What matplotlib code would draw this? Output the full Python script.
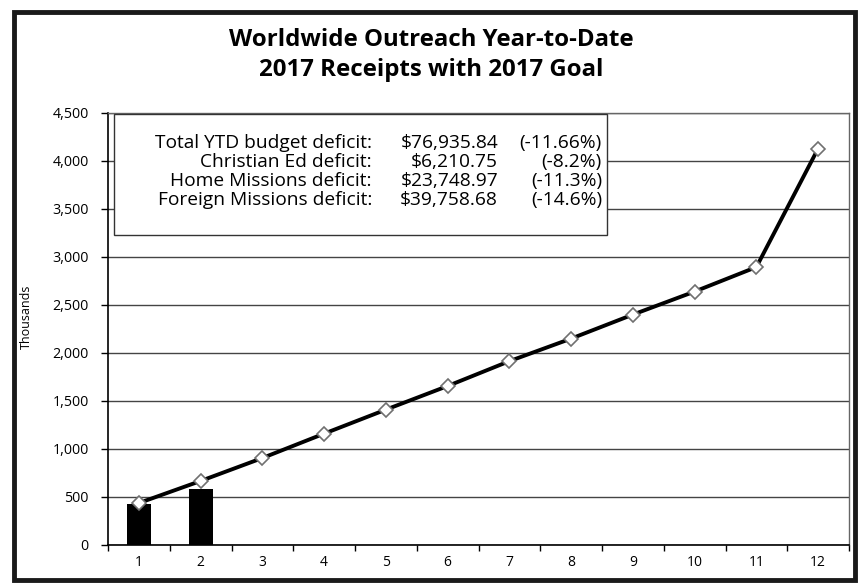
import matplotlib
matplotlib.use("Agg")
import matplotlib.pyplot as plt
from matplotlib.patches import Rectangle

months = [1, 2, 3, 4, 5, 6, 7, 8, 9, 10, 11, 12]
goal = [437, 667, 906, 1160, 1410, 1656, 1915, 2150, 2400, 2640, 2895, 4130]
receipt_months = [1, 2]
receipts = [427, 583]
yticks = [0, 500, 1000, 1500, 2000, 2500, 3000, 3500, 4000, 4500]
labels = ["Total YTD budget deficit:", "Christian Ed deficit:",
          "Home Missions deficit:", "Foreign Missions deficit:"]
amounts = ["$76,935.84", "$6,210.75", "$23,748.97", "$39,758.68"]
pcts = ["(-11.66%)", "(-8.2%)", "(-11.3%)", "(-14.6%)"]
title = "Worldwide Outreach Year-to-Date\n2017 Receipts with 2017 Goal"

plt.rcParams['font.family'] = ['Open Sans', 'DejaVu Sans']
W, H = 859, 583
fig = plt.figure(figsize=(W/100, H/100), dpi=100)
fig.patch.set_facecolor('white')

# outer frame
fig.add_artist(Rectangle((13.5/W, 3.5/H), (855-13.5)/W, (571-3.5)/H,
                         transform=fig.transFigure, fill=False,
                         edgecolor='#1a1a1a', linewidth=3.5))

ax = fig.add_axes([108/W, 1-545/H, (849-108)/W, (545-113)/H])
ax.bar(receipt_months, receipts, width=0.39, color='black', zorder=2)
ax.plot(months, goal, color='black', linewidth=2.8, marker='D', markersize=7.5,
        markerfacecolor='white', markeredgecolor='#707070', markeredgewidth=1.2,
        zorder=3)

ax.set_xlim(0.5, 12.5)
ax.set_ylim(0, 4500)
ax.set_yticks(yticks)
ax.set_yticklabels([f"{v:,}" for v in yticks], fontsize=10.3)
ax.set_xticks(months)
ax.set_xticklabels([str(m) for m in months], fontsize=10)
ax.tick_params(axis='x', length=0, pad=7)
ax.set_xticks([m + 0.5 for m in range(0, 13)], minor=True)
ax.tick_params(axis='x', which='minor', length=4, direction='out', width=1)
ax.tick_params(axis='y', length=5, direction='out', width=1, pad=9)
ax.grid(axis='y', color='#444444', linewidth=1.0, zorder=0)
ax.set_axisbelow(True)
for s in ['left', 'bottom']:
    ax.spines[s].set_color('black')
    ax.spines[s].set_linewidth(1.2)
for s in ['right', 'top']:
    ax.spines[s].set_color('#666666')
    ax.spines[s].set_linewidth(1.0)

fig.text(26/W, 1-317/H, "Thousands", rotation=90, ha='center', va='center',
         fontsize=9)

fig.text(431/W, 1-55/H, title, ha='center', va='center', fontsize=17.3,
         fontweight='bold', linespacing=1.35)

# text box
def ax_x(px):
    return (px - 108) / (849 - 108)
def ax_y(py):
    return (545 - py) / (545 - 113)

ax.add_patch(Rectangle((ax_x(114), ax_y(235)), ax_x(607) - ax_x(114),
                       ax_y(114) - ax_y(235), transform=ax.transAxes,
                       facecolor='white', edgecolor='#333333', linewidth=1.0,
                       zorder=4))
ys = [143, 162, 181, 200]
fs = 13.8
for lab, amt, pct, py in zip(labels, amounts, pcts, ys):
    ax.text(ax_x(372), ax_y(py), lab, transform=ax.transAxes, ha='right',
            va='center', fontsize=fs, zorder=5)
    ax.text(ax_x(498), ax_y(py), amt, transform=ax.transAxes, ha='right',
            va='center', fontsize=fs, zorder=5)
    ax.text(ax_x(602), ax_y(py), pct, transform=ax.transAxes, ha='right',
            va='center', fontsize=fs, zorder=5)

fig.savefig("out.png", dpi=100)
